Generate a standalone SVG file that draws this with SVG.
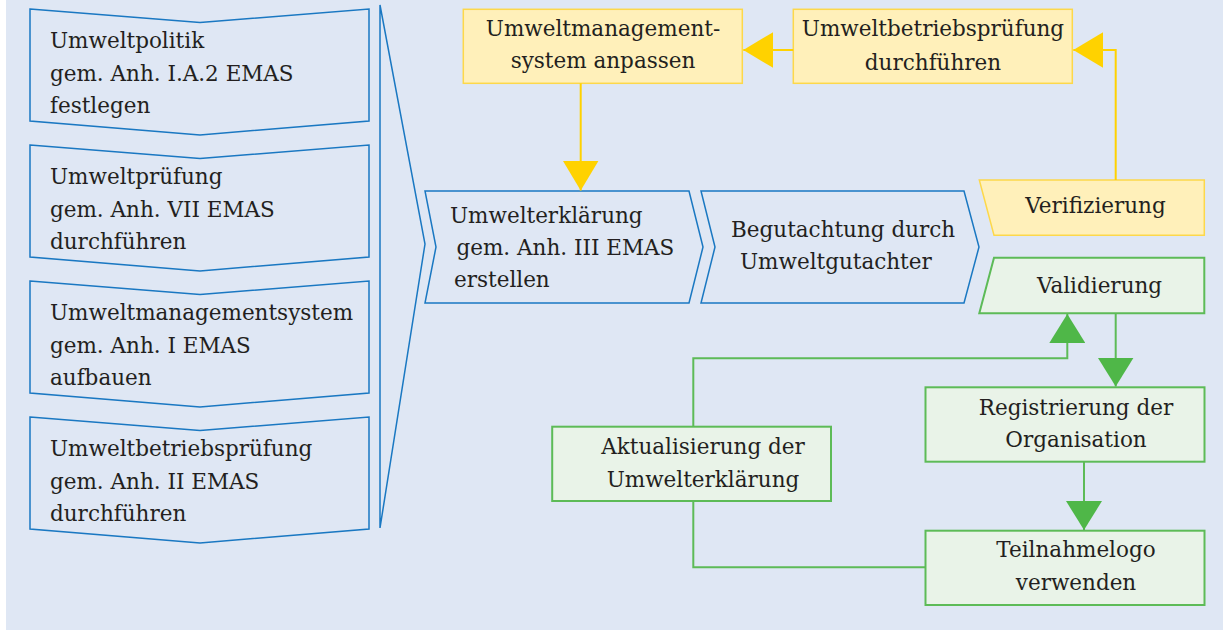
<svg xmlns="http://www.w3.org/2000/svg" width="1223" height="630" viewBox="0 0 1223 630">
<style>
.t{font-family:"DejaVu Serif","Liberation Serif",serif;font-size:21.5px;fill:#231f20}
.m{text-anchor:middle}
.b{fill:none;stroke:#1a78c2;stroke-width:1.5}
.y{fill:#fff0ba;stroke:#fdd84a;stroke-width:1.5}
.g{fill:#e9f3e8;stroke:#5dbb57;stroke-width:2}
.cy{fill:none;stroke:#ffd200;stroke-width:2}
.cg{fill:none;stroke:#5dbb57;stroke-width:2}
</style>
<defs>
<marker id="ay" viewBox="0 0 30 36" refX="30" refY="18" markerWidth="30" markerHeight="36" markerUnits="userSpaceOnUse" orient="auto"><path d="M0,0 L30,18 L0,36 z" fill="#ffd200"/></marker>
<marker id="ag" viewBox="0 0 29 36" refX="29" refY="18" markerWidth="29" markerHeight="36" markerUnits="userSpaceOnUse" orient="auto"><path d="M0,0 L29,18 L0,36 z" fill="#4fb748"/></marker>
</defs>
<rect x="6" y="0" width="1217" height="630" fill="#dfe7f4"/>

<g id="n-umweltpolitik">
<polygon class="b" points="30,9 200,22.5 369,9 369,121 200,135 30,121"/>
<text class="t" x="50" y="48">Umweltpolitik</text>
<text class="t" x="50" y="80.5">gem. Anh. I.A.2 EMAS</text>
<text class="t" x="50" y="113">festlegen</text>
</g>
<g id="n-umweltpruefung">
<polygon class="b" points="30,145 200,158.5 369,145 369,257 200,271 30,257"/>
<text class="t" x="50" y="184">Umweltprüfung</text>
<text class="t" x="50" y="216.5">gem. Anh. VII EMAS</text>
<text class="t" x="50" y="249">durchführen</text>
</g>
<g id="n-ums">
<polygon class="b" points="30,281 200,294.5 369,281 369,393 200,407 30,393"/>
<text class="t" x="50" y="320">Umweltmanagementsystem</text>
<text class="t" x="50" y="352.5">gem. Anh. I EMAS</text>
<text class="t" x="50" y="385">aufbauen</text>
</g>
<g id="n-betriebspruefung">
<polygon class="b" points="30,417 200,430.5 369,417 369,529 200,543 30,529"/>
<text class="t" x="50" y="456">Umweltbetriebsprüfung</text>
<text class="t" x="50" y="488.5">gem. Anh. II EMAS</text>
<text class="t" x="50" y="521">durchführen</text>
</g>
<g id="n-bracket">
<polygon class="b" points="380,5 425,244 380,528"/>
</g>

<g id="n-umwelterklaerung">
<polygon class="b" points="425,191 689,191 703,247 689,303 425,303 436,247"/>
<text class="t" x="450" y="222.5">Umwelterklärung</text>
<text class="t" x="456.5" y="255">gem. Anh. III EMAS</text>
<text class="t" x="454" y="287">erstellen</text>
</g>
<g id="n-begutachtung">
<polygon class="b" points="701,191 964,191 979,247 964,303 701,303 715,247"/>
<text class="t" x="731" y="236.5">Begutachtung durch</text>
<text class="t" x="740" y="268.5">Umweltgutachter</text>
</g>

<g id="n-ums-anpassen">
<rect class="y" x="463.3" y="9.3" width="279" height="74"/>
<text class="t m" x="603" y="36">Umweltmanagement-</text>
<text class="t m" x="603" y="68">system anpassen</text>
</g>
<g id="n-ubp-durchfuehren">
<rect class="y" x="793.3" y="9.3" width="279" height="74"/>
<text class="t m" x="933" y="36">Umweltbetriebsprüfung</text>
<text class="t m" x="933" y="70">durchführen</text>
</g>
<g id="n-verifizierung">
<polygon class="y" points="979.3,180 1204.3,180 1204.3,235.3 994,235.3"/>
<text class="t m" x="1095.5" y="213">Verifizierung</text>
</g>
<g id="n-validierung">
<polygon class="g" points="994,257.7 1204.3,257.7 1204.3,313.3 979.3,313.3"/>
<text class="t m" x="1099.5" y="292.5">Validierung</text>
</g>
<g id="n-registrierung">
<rect class="g" x="925.5" y="387.3" width="279" height="74.4"/>
<text class="t m" x="1076" y="415">Registrierung der</text>
<text class="t m" x="1076" y="446.7">Organisation</text>
</g>
<g id="n-teilnahmelogo">
<rect class="g" x="925.5" y="530.7" width="279" height="74.3"/>
<text class="t m" x="1076" y="557.3">Teilnahmelogo</text>
<text class="t m" x="1076" y="590">verwenden</text>
</g>
<g id="n-aktualisierung">
<rect class="g" x="552.2" y="426.7" width="278.8" height="74.3"/>
<text class="t m" x="703" y="454">Aktualisierung der</text>
<text class="t m" x="703" y="487.3">Umwelterklärung</text>
</g>

<g id="connectors">
<path class="cy" d="M793.3,50 H743.3" marker-end="url(#ay)"/>
<path class="cy" d="M580.7,83.3 V190.5" marker-end="url(#ay)"/>
<path class="cy" d="M1115.7,180 V50 H1073.3" marker-end="url(#ay)"/>
<path class="cg" d="M1115.7,313.3 V386.5" marker-end="url(#ag)"/>
<path class="cg" d="M1084,461.7 V530" marker-end="url(#ag)"/>
<path class="cg" d="M925.5,567.3 H693.3 V501"/>
<path class="cg" d="M693.3,426.7 V358.3 H1067.3 V314" marker-end="url(#ag)"/>
</g>
</svg>
